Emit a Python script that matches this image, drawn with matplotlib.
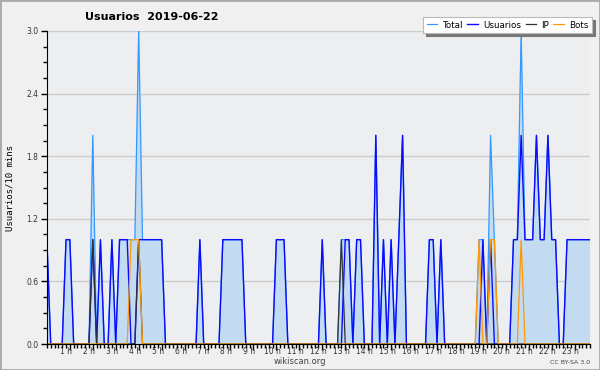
import numpy as np
import matplotlib
matplotlib.use('Agg')
import matplotlib.pyplot as plt
import matplotlib.transforms as mtransforms
from matplotlib.patches import Rectangle
from matplotlib.ticker import MultipleLocator

# one value per 10 minutes, one row per hour (00:00 .. 23:40)
total = [
    1, 0, 0, 0, 0, 1,
    1, 0, 0, 0, 0, 0,
    2, 0, 1, 0, 0, 1,
    0, 1, 1, 1, 1, 1,
    3, 1, 1, 1, 1, 1,
    1, 0, 0, 0, 0, 0,
    0, 0, 0, 0, 1, 0,
    0, 0, 0, 0, 1, 1,
    1, 1, 1, 1, 0, 0,
    0, 0, 0, 0, 0, 0,
    1, 1, 1, 0, 0, 0,
    0, 0, 0, 0, 0, 0,
    1, 0, 0, 0, 0, 1,
    1, 1, 0, 1, 1, 0,
    0, 0, 2, 0, 1, 0,
    1, 0, 1, 2, 0, 0,
    0, 0, 0, 0, 1, 1,
    0, 1, 0, 0, 0, 0,
    0, 0, 0, 0, 0, 1,
    1, 0, 2, 1, 0, 0,
    0, 0, 1, 1, 3, 1,
    1, 1, 2, 1, 1, 2,
    1, 1, 0, 0, 1, 1,
    1, 1, 1, 1, 1,
]
usuarios = [
    1, 0, 0, 0, 0, 1,
    1, 0, 0, 0, 0, 0,
    1, 0, 1, 0, 0, 1,
    0, 1, 1, 1, 0, 0,
    1, 1, 1, 1, 1, 1,
    1, 0, 0, 0, 0, 0,
    0, 0, 0, 0, 1, 0,
    0, 0, 0, 0, 1, 1,
    1, 1, 1, 1, 0, 0,
    0, 0, 0, 0, 0, 0,
    1, 1, 1, 0, 0, 0,
    0, 0, 0, 0, 0, 0,
    1, 0, 0, 0, 0, 0,
    1, 1, 0, 1, 1, 0,
    0, 0, 2, 0, 1, 0,
    1, 0, 1, 2, 0, 0,
    0, 0, 0, 0, 1, 1,
    0, 1, 0, 0, 0, 0,
    0, 0, 0, 0, 0, 0,
    1, 0, 1, 0, 0, 0,
    0, 0, 1, 1, 2, 1,
    1, 1, 2, 1, 1, 2,
    1, 1, 0, 0, 1, 1,
    1, 1, 1, 1, 1,
]
ip = [
    0, 0, 0, 0, 0, 0,
    0, 0, 0, 0, 0, 0,
    1, 0, 0, 0, 0, 0,
    0, 0, 0, 0, 0, 0,
    1, 0, 0, 0, 0, 0,
    0, 0, 0, 0, 0, 0,
    0, 0, 0, 0, 0, 0,
    0, 0, 0, 0, 0, 0,
    0, 0, 0, 0, 0, 0,
    0, 0, 0, 0, 0, 0,
    0, 0, 0, 0, 0, 0,
    0, 0, 0, 0, 0, 0,
    0, 0, 0, 0, 0, 1,
    0, 0, 0, 0, 0, 0,
    0, 0, 0, 0, 0, 0,
    0, 0, 0, 0, 0, 0,
    0, 0, 0, 0, 0, 0,
    0, 0, 0, 0, 0, 0,
    0, 0, 0, 0, 0, 0,
    0, 0, 0, 0, 0, 0,
    0, 0, 0, 0, 0, 0,
    0, 0, 0, 0, 0, 0,
    0, 0, 0, 0, 0, 0,
    0, 0, 0, 0, 0,
]
bots = [
    0, 0, 0, 0, 0, 0,
    0, 0, 0, 0, 0, 0,
    0, 0, 0, 0, 0, 0,
    0, 0, 0, 0, 1, 1,
    1, 0, 0, 0, 0, 0,
    0, 0, 0, 0, 0, 0,
    0, 0, 0, 0, 0, 0,
    0, 0, 0, 0, 0, 0,
    0, 0, 0, 0, 0, 0,
    0, 0, 0, 0, 0, 0,
    0, 0, 0, 0, 0, 0,
    0, 0, 0, 0, 0, 0,
    0, 0, 0, 0, 0, 0,
    0, 0, 0, 0, 0, 0,
    0, 0, 0, 0, 0, 0,
    0, 0, 0, 0, 0, 0,
    0, 0, 0, 0, 0, 0,
    0, 0, 0, 0, 0, 0,
    0, 0, 0, 0, 0, 1,
    0, 0, 1, 1, 0, 0,
    0, 0, 0, 0, 1, 0,
    0, 0, 0, 0, 0, 0,
    0, 0, 0, 0, 0, 0,
    0, 0, 0, 0, 0,
]
hour_labels = [f'{h} h' for h in range(1, 24)]
y_ticks = [0.0, 0.6, 1.2, 1.8, 2.4, 3.0]

title = 'Usuarios  2019-06-22'
ylabel = 'Usuarios/10 mins'

C_TOTAL = '#3399ff'
C_USERS = '#0a0aff'
C_IP = '#333333'
C_BOTS = '#ff9900'
C_FILL = '#c3dbf0'

fig = plt.figure(figsize=(6, 3.7), dpi=100, facecolor='#f0f0f0')
ax = fig.add_axes([46.9 / 600, 26 / 370, 543.1 / 600, 313 / 370])
ax.set_facecolor('#edeef0')

x = np.arange(len(total))
# area under the total line, drawn as one closed polygon
ax.fill(np.concatenate([x, x[::-1]]), np.concatenate([total, np.zeros(len(total))]),
        facecolor=C_FILL, edgecolor=C_FILL, lw=0.6, zorder=1.5)
l1, = ax.plot(x, total, color=C_TOTAL, lw=0.9, label='Total', zorder=2)
l2, = ax.plot(x, usuarios, color=C_USERS, lw=1.0, label='Usuarios', zorder=2.1)
l3, = ax.plot(x, ip, color=C_IP, lw=0.9, label='IP', zorder=2.2)
l4, = ax.plot(x, bots, color=C_BOTS, lw=0.9, label='Bots', zorder=2.3)

ax.set_xlim(0, len(total) - 1)
ax.set_ylim(0, 3.0)

for s in ['top', 'right']:
    ax.spines[s].set_visible(False)
ax.spines['left'].set_color('black')
ax.spines['bottom'].set_color('black')
ax.spines['left'].set_zorder(3)
ax.spines['bottom'].set_zorder(3)

ax.set_yticks(y_ticks)
ax.set_yticklabels([f'{v:.1f}' for v in y_ticks])
ax.yaxis.set_minor_locator(MultipleLocator(0.15))
ax.grid(axis='y', color='#cccccc', lw=1, zorder=1)
ax.set_axisbelow(True)

ax.set_xticks(np.arange(6, len(total), 6))
ax.set_xticklabels(hour_labels)
ax.xaxis.set_minor_locator(MultipleLocator(1))
ax.tick_params(axis='y', which='major', length=4, width=1, labelsize=5.5, labelcolor='#333333', pad=2)
ax.tick_params(axis='y', which='minor', length=3, width=1)
ax.tick_params(axis='x', which='major', length=4, width=1, labelsize=5.5, labelcolor='#333333', pad=-1.5)
ax.tick_params(axis='x', which='minor', length=3, width=1)

# hour labels sit a bit left of their tick
offset = mtransforms.ScaledTranslation(-4 / 100, 0, fig.dpi_scale_trans)
for lab in ax.get_xticklabels():
    lab.set_transform(lab.get_transform() + offset)

fig.text(85 / 600, 1 - 17 / 370, title, fontsize=8, fontweight='bold', va='center', ha='left')
fig.text(10 / 600, 1 - 188 / 370, ylabel, rotation=90, fontsize=6.5,
         family='DejaVu Sans Mono', va='center', ha='center')

leg = fig.legend(handles=[l1, l2, l3, l4], loc='upper right', ncol=4,
                 bbox_to_anchor=(592 / 600, 1 - 17 / 370), fontsize=6.3,
                 frameon=True, fancybox=False, shadow={'color': '#777777', 'alpha': 1},
                 handlelength=1.2, handletextpad=0.6, columnspacing=0.5,
                 borderpad=0.4, borderaxespad=0)
leg.get_frame().set_edgecolor('#bbbbbb')
leg.get_frame().set_linewidth(0.8)

fig.text(300 / 600, 1 - 362 / 370, 'wikiscan.org', fontsize=6, color='#444444', ha='center', va='center')
fig.text(590 / 600, 1 - 362 / 370, 'CC BY-SA 3.0', fontsize=4.5, color='#444444', ha='right', va='center')

fig.patches.append(Rectangle((0, 0), 1, 1, transform=fig.transFigure, fill=False,
                             edgecolor='#aaaaaa', lw=2))

plt.savefig('out.png', dpi=100, facecolor=fig.get_facecolor())
plt.close()
